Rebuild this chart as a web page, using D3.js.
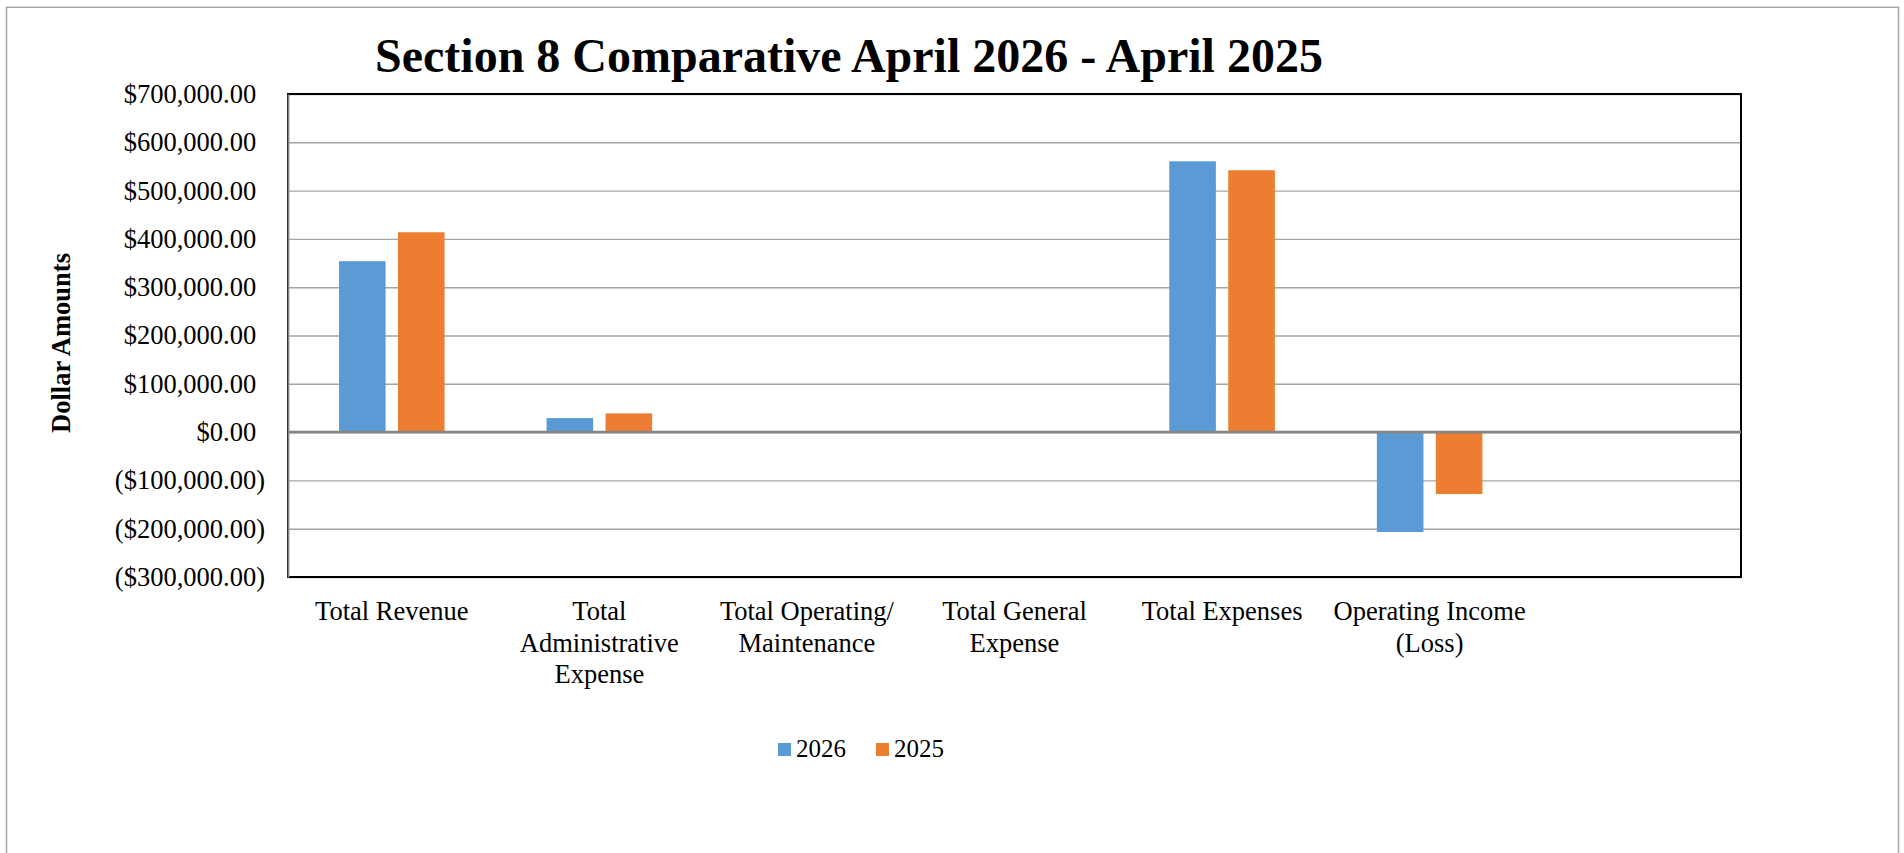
<!DOCTYPE html>
<html>
<head>
<meta charset="utf-8">
<script src="https://cdn.jsdelivr.net/npm/d3@7/dist/d3.min.js"></script>
<style>
  html, body { margin: 0; padding: 0; background: #fff; }
  svg { display: block; }
</style>
</head>
<body>
<svg id="chart" width="1904" height="853"></svg>
<script>
// Section 8 comparative figures, April 2026 vs April 2025
const categories = [
  "Total Revenue",
  "Total Administrative Expense",
  "Total Operating/ Maintenance",
  "Total General Expense",
  "Total Expenses",
  "Operating Income (Loss)"
];
const seriesNames = ["2026", "2025"];
const values2026 = [353800, 29000, 0, 1500, 560700, -206900];
const values2025 = [413800, 38700, 0, 0, 542100, -128300];
const yTicks = [700000, 600000, 500000, 400000, 300000, 200000, 100000, 0, -100000, -200000, -300000];
const colors = ["#5B9BD5", "#ED7D31"];
const titleText = "Section 8 Comparative April 2026 - April 2025";
const yTitle = "Dollar Amounts";

const SERIF = '"Liberation Serif", "Times New Roman", Times, serif';

const svg = d3.select("#chart");

// chart frame
svg.append("rect")
  .attr("x", 6.5).attr("y", 7.3)
  .attr("width", 1892).attr("height", 900)
  .attr("fill", "#fff")
  .attr("stroke", "#a6a6a6").attr("stroke-width", 1.5);

const plot = { left: 288, right: 1741, top: 94, bottom: 577 };

// one trailing empty slot on the category axis
const x = d3.scaleBand()
  .domain([...categories, ""])
  .range([plot.left, plot.right]);

const xInner = d3.scaleBand()
  .domain(seriesNames)
  .range([x.bandwidth() * 0.2457, x.bandwidth() * 0.7543])
  .paddingInner(0.21);

const y = d3.scaleLinear()
  .domain([-300000, 700000])
  .range([plot.bottom, plot.top]);

const money = d3.format("$,.2f");
const fmt = v => v < 0 ? `(${money(-v)})` : money(v);

// gridlines
svg.append("g")
  .attr("transform", `translate(${plot.left},0)`)
  .call(d3.axisLeft(y).tickValues(yTicks).tickSize(-(plot.right - plot.left)).tickFormat(""))
  .call(g => g.select(".domain").remove())
  .call(g => g.selectAll(".tick line").attr("stroke", "#a6a6a6").attr("stroke-width", 1.4));

// plot border
svg.append("rect")
  .attr("x", plot.left).attr("y", plot.top)
  .attr("width", plot.right - plot.left).attr("height", plot.bottom - plot.top)
  .attr("fill", "none").attr("stroke", "#000").attr("stroke-width", 2);

// y axis labels
svg.append("g")
  .attr("transform", `translate(${plot.left},0)`)
  .call(d3.axisLeft(y).tickValues(yTicks).tickSize(0).tickPadding(23).tickFormat(fmt))
  .call(g => g.select(".domain").attr("stroke", "#868686").attr("stroke-width", 1.8))
  .call(g => g.selectAll(".tick text")
    .style("font-family", SERIF)
    .style("font-size", "26.5px")
    .attr("fill", "#000")
    .attr("dx", d => d < 0 ? 0 : -8.8));

// bars
const rows = categories.map((c, i) => ({ cat: c, vals: [values2026[i], values2025[i]] }));
const groups = svg.append("g").selectAll("g")
  .data(rows).join("g")
  .attr("transform", d => `translate(${x(d.cat)},0)`);

groups.selectAll("rect")
  .data(d => d.vals.map((v, k) => ({ s: seriesNames[k], v, k })))
  .join("rect")
  .attr("x", d => xInner(d.s))
  .attr("width", xInner.bandwidth())
  .attr("y", d => y(Math.max(0, d.v)))
  .attr("height", d => Math.abs(y(d.v) - y(0)))
  .attr("fill", d => colors[d.k]);

// zero line
svg.append("line")
  .attr("x1", plot.left).attr("x2", plot.right)
  .attr("y1", y(0)).attr("y2", y(0))
  .attr("stroke", "#868686").attr("stroke-width", 2.6);

// category labels, wrapped to the slot width
const xAxis = svg.append("g")
  .attr("transform", `translate(0,${plot.bottom})`)
  .call(d3.axisBottom(x).tickSize(0).tickPadding(0))
  .call(g => g.select(".domain").remove());

xAxis.selectAll(".tick text")
  .style("font-family", SERIF)
  .style("font-size", "26.5px")
  .attr("fill", "#000")
  .attr("y", 43).attr("dy", 0)
  .each(function () {
    const t = d3.select(this);
    const words = t.text().split(/\s+/).filter(w => w.length);
    const maxW = x.bandwidth() - 4;
    t.text(null);
    let line = [];
    let tspan = t.append("tspan").attr("x", 0).attr("dy", 0);
    words.forEach(w => {
      line.push(w);
      tspan.text(line.join(" "));
      if (tspan.node().getComputedTextLength() > maxW && line.length > 1) {
        line.pop();
        tspan.text(line.join(" "));
        line = [w];
        tspan = t.append("tspan").attr("x", 0).attr("dy", 31.7).text(w);
      }
    });
  });

// title
svg.append("text")
  .attr("x", 375).attr("y", 72)
  .style("font-family", SERIF)
  .style("font-size", "48px").style("font-weight", "bold")
  .text(titleText);

// y axis title
svg.append("text")
  .attr("transform", "translate(70,343) rotate(-90)")
  .attr("text-anchor", "middle")
  .style("font-family", SERIF)
  .style("font-size", "26.5px").style("font-weight", "bold")
  .text(yTitle);

// legend
const legendX = [778, 876];
const legend = svg.append("g").selectAll("g")
  .data(seriesNames).join("g")
  .attr("transform", (d, i) => `translate(${legendX[i]},743)`);
legend.append("rect")
  .attr("width", 13).attr("height", 13)
  .attr("fill", (d, i) => colors[i]);
legend.append("text")
  .attr("x", 18).attr("y", 14)
  .style("font-family", SERIF)
  .style("font-size", "25px")
  .text(d => d);
</script>
</body>
</html>
